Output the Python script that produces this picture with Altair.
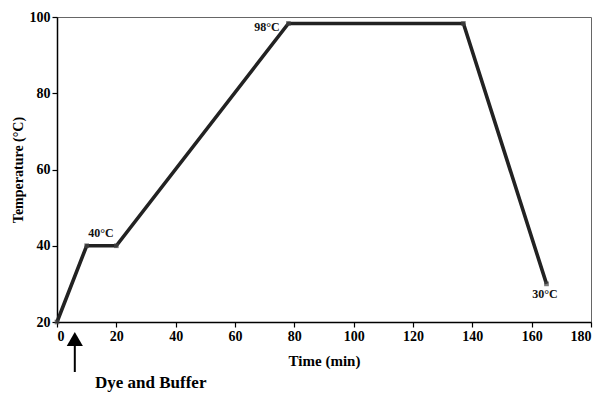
import altair as alt
import pandas as pd

time_min = [0, 10, 20, 78, 137, 165]
temp_c = [20, 40, 40, 98.3, 98.3, 30]

label_text = ["40°C", "98°C", "30°C"]
label_x = [14.8, 70.8, 164.5]
label_y = [43.4, 97.4, 27.3]

arrow_time = [6]
note_text = ["Dye and Buffer"]

df = pd.DataFrame({"t": time_min, "T": temp_c})
lab = pd.DataFrame({"t": label_x, "T": label_y, "txt": label_text})
arr = pd.DataFrame({"t": arrow_time, "txt": note_text})

FONT = "Liberation Serif"

xs = alt.Scale(domain=[0, 180], nice=False)
ys = alt.Scale(domain=[20, 100], nice=False)

line = alt.Chart(df).mark_line(color="#222222", strokeWidth=3.6).encode(
    x=alt.X("t:Q", scale=xs, title="Time (min)",
            axis=alt.Axis(values=list(range(0, 181, 20)), grid=False)),
    y=alt.Y("T:Q", scale=ys, title="Temperature (°C)",
            axis=alt.Axis(values=list(range(20, 101, 20)), grid=False)),
)
pts = alt.Chart(df).mark_square(color="#444444", size=22).encode(
    x=alt.X("t:Q", scale=xs), y=alt.Y("T:Q", scale=ys)
)
labels = alt.Chart(lab).mark_text(font=FONT, fontWeight="bold", fontSize=12, color="#111").encode(
    x=alt.X("t:Q", scale=xs), y=alt.Y("T:Q", scale=ys), text="txt:N"
)
head = alt.Chart(arr).mark_point(shape="triangle-up", filled=True, color="black", size=260, opacity=1, clip=False).encode(
    x=alt.X("t:Q", scale=xs), y=alt.value(322)
)
shaft = alt.Chart(arr).mark_rule(color="black", strokeWidth=2, clip=False).encode(
    x=alt.X("t:Q", scale=xs), y=alt.value(328), y2=alt.value(355)
)
note = alt.Chart(arr).mark_text(font=FONT, fontWeight="bold", fontSize=17, color="black", align="left",
                                baseline="alphabetic", clip=False).encode(
    x=alt.value(38), y=alt.value(371), text="txt:N"
)

chart = alt.layer(line, pts, labels, head, shaft, note).properties(
    width=534, height=305,
    autosize=alt.AutoSizeParams(type="none"),
    padding={"left": 57, "top": 17, "right": 9, "bottom": 71},
).configure_view(
    stroke="#666666", strokeWidth=1
).configure_axis(
    labelFont=FONT, titleFont=FONT, labelFontWeight="bold", titleFontWeight="bold",
    labelFontSize=14, titleFontSize=14, labelColor="black", titleColor="black",
    domainColor="black", domainWidth=1.5, tickColor="black", tickWidth=1.2, tickSize=5,
).configure_axisX(
    labelPadding=2, titlePadding=10, titleFontSize=15
).configure_axisY(
    labelPadding=2, titlePadding=4
)

chart.save("out.html", embed_options={"renderer": "svg", "actions": False})
